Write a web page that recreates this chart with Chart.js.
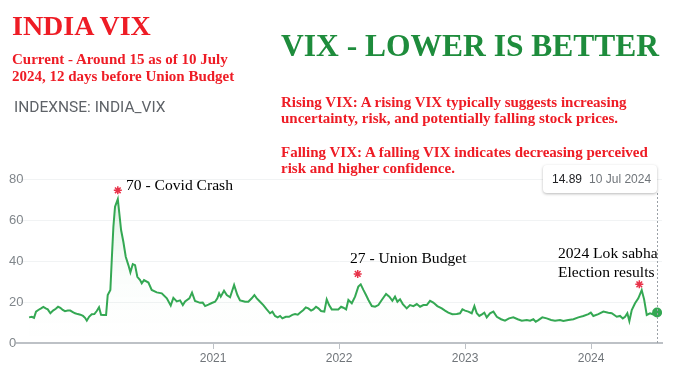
<!DOCTYPE html>
<html>
<head>
<meta charset="utf-8">
<script src="https://cdn.jsdelivr.net/npm/chart.js@4.4.1/dist/chart.umd.min.js"></script>
<style>
  html, body { margin: 0; padding: 0; background: #fff; }
  #wrap { position: relative; width: 676px; height: 377px; overflow: hidden; }
  #chart { position: absolute; left: 0; top: 0; }
  .t { position: absolute; white-space: nowrap; font-family: "Liberation Serif", "Times New Roman", serif; }
  .red { color: #ee1c25; font-weight: bold; }
  .note { color: #000; font-size: 15.6px; line-height: 16px; }
  #tip { position: absolute; left: 543px; top: 165px; width: 114px; height: 28px; background: #fff;
         border-radius: 4px; box-shadow: 0 1px 3px rgba(0,0,0,0.28); font: 12px "Liberation Sans", Arial, sans-serif;
         line-height: 28px; white-space: nowrap; }
</style>
</head>
<body>
<div id="wrap">
  <canvas id="chart" width="676" height="377"></canvas>

  <div class="t red" style="left:12px; top:11.5px; font-size:28px; line-height:28px;">INDIA VIX</div>
  <div class="t red" style="left:12px; top:50.5px; font-size:15px; line-height:17px;">Current - Around 15 as of 10 July<br>2024, 12 days before Union Budget</div>
  <div class="t" style="left:14px; top:99.5px; font-family: Roboto, Arial, sans-serif; font-size:15.5px; line-height:15.5px; color:#5f6368;">INDEXNSE: INDIA_VIX</div>

  <div class="t" style="left:281px; top:30.3px; font-size:31.5px; line-height:31.5px; font-weight:bold; color:#1e8c3c;">VIX - LOWER IS BETTER</div>
  <div class="t red" style="left:281px; top:94.2px; font-size:15px; line-height:16px;">Rising VIX: A rising VIX typically suggests increasing<br>uncertainty, risk, and potentially falling stock prices.</div>
  <div class="t red" style="left:281px; top:144.2px; font-size:15px; line-height:16px;">Falling VIX: A falling VIX indicates decreasing perceived<br>risk and higher confidence.</div>

  <div class="t note" style="left:126px; top:177px;">70 - Covid Crash</div>
  <div class="t note" style="left:350px; top:250px;">27 - Union Budget</div>
  <div class="t note" style="left:558px; top:243px; line-height:19px;">2024 Lok sabha<br>Election results</div>

  <div id="tip"><span style="margin-left:9px; color:#202124;">14.89</span><span style="margin-left:7px; color:#70757a;">10 Jul 2024</span></div>
</div>

<script>
// INDIA VIX, weekly-ish readings, dates as decimal years
const dates = [
  2019.540, 2019.561, 2019.579, 2019.595, 2019.613, 2019.635, 2019.653, 2019.672, 2019.688, 2019.709,
  2019.730, 2019.752, 2019.770, 2019.788, 2019.807, 2019.825, 2019.847, 2019.867, 2019.887, 2019.905,
  2019.926, 2019.947, 2019.968, 2019.984, 2019.998, 2020.016, 2020.037, 2020.058, 2020.077, 2020.095,
  2020.111, 2020.129, 2020.151, 2020.164, 2020.185, 2020.196, 2020.209, 2020.222, 2020.244, 2020.256,
  2020.270, 2020.288, 2020.307, 2020.328, 2020.344, 2020.363, 2020.381, 2020.399, 2020.421, 2020.434,
  2020.452, 2020.487, 2020.513, 2020.553, 2020.593, 2020.633, 2020.664, 2020.685, 2020.712, 2020.738,
  2020.760, 2020.778, 2020.812, 2020.833, 2020.857, 2020.897, 2020.918, 2020.937, 2020.963, 2020.990,
  2021.016, 2021.034, 2021.048, 2021.061, 2021.087, 2021.109, 2021.135, 2021.167, 2021.193, 2021.214,
  2021.233, 2021.254, 2021.280, 2021.307, 2021.328, 2021.347, 2021.373, 2021.399, 2021.426, 2021.452,
  2021.471, 2021.492, 2021.513, 2021.532, 2021.550, 2021.577, 2021.603, 2021.629, 2021.651, 2021.672,
  2021.690, 2021.717, 2021.736, 2021.756, 2021.778, 2021.796, 2021.817, 2021.836, 2021.857, 2021.883,
  2021.902, 2021.921, 2021.942, 2021.968, 2021.994, 2022.016, 2022.034, 2022.056, 2022.074, 2022.101,
  2022.127, 2022.153, 2022.172, 2022.193, 2022.214, 2022.233, 2022.260, 2022.286, 2022.312, 2022.339,
  2022.373, 2022.399, 2022.423, 2022.444, 2022.463, 2022.484, 2022.506, 2022.537, 2022.563, 2022.590,
  2022.617, 2022.643, 2022.669, 2022.696, 2022.722, 2022.748, 2022.780, 2022.815, 2022.841, 2022.867,
  2022.899, 2022.934, 2022.960, 2022.979, 2023.000, 2023.026, 2023.053, 2023.074, 2023.093, 2023.113,
  2023.137, 2023.153, 2023.172, 2023.198, 2023.225, 2023.252, 2023.286, 2023.317, 2023.349, 2023.383,
  2023.418, 2023.450, 2023.490, 2023.516, 2023.542, 2023.561, 2023.582, 2023.613, 2023.648, 2023.683,
  2023.714, 2023.754, 2023.780, 2023.820, 2023.860, 2023.899, 2023.939, 2023.979, 2023.998, 2024.018,
  2024.058, 2024.098, 2024.137, 2024.164, 2024.204, 2024.230, 2024.252, 2024.270, 2024.288, 2024.304,
  2024.323, 2024.349, 2024.375, 2024.402, 2024.421, 2024.442, 2024.468, 2024.490, 2024.508, 2024.524
];
const vix = [
  12.5, 12.8, 12.3, 15.3, 16.1, 16.9, 17.6, 16.9, 16.4, 14.5,
  15.8, 16.7, 17.7, 17.2, 16.1, 15.5, 15.8, 15.8, 15.1, 14.5,
  14.1, 13.8, 13.2, 12.3, 10.9, 12.8, 14.0, 14.1, 15.6, 17.4,
  13.8, 13.7, 13.7, 23.4, 25.9, 40.5, 56.7, 66.5, 70.2, 63.3,
  55.1, 49.4, 42.1, 38.0, 34.5, 38.5, 38.0, 32.3, 30.7, 29.1,
  30.7, 29.5, 25.9, 24.7, 24.2, 21.8, 18.3, 22.0, 20.3, 20.8,
  18.5, 20.3, 21.8, 24.6, 20.5, 19.6, 19.7, 18.0, 18.7, 19.5,
  20.1, 21.8, 24.2, 22.6, 25.5, 23.4, 22.3, 28.3, 23.4, 20.8,
  20.5, 20.1, 20.1, 21.8, 23.4, 21.8, 20.1, 18.5, 16.4, 14.5,
  15.3, 13.2, 12.5, 13.2, 12.0, 12.8, 12.8, 13.7, 14.1, 13.8,
  14.8, 16.1, 17.4, 16.9, 15.8, 16.4, 17.7, 16.9, 15.6, 15.3,
  21.3, 18.5, 16.4, 16.4, 16.4, 17.7, 17.2, 16.4, 21.0, 19.4,
  22.6, 27.5, 28.6, 25.9, 23.4, 21.0, 18.0, 17.7, 18.5, 21.0,
  23.9, 22.6, 20.6, 22.6, 20.1, 21.3, 19.0, 16.9, 18.5, 18.0,
  19.0, 17.7, 18.5, 18.5, 20.6, 19.7, 18.0, 16.9, 15.8, 14.8,
  14.0, 14.1, 14.5, 16.4, 15.8, 15.3, 14.5, 18.0, 14.5, 13.2,
  14.1, 14.8, 12.5, 14.5, 15.3, 12.8, 11.6, 10.9, 12.0, 12.5,
  11.6, 10.9, 11.2, 10.9, 11.6, 10.4, 11.2, 12.5, 12.0, 11.2,
  10.9, 11.2, 10.7, 11.2, 11.6, 12.5, 13.2, 14.1, 14.8, 13.2,
  14.1, 15.3, 14.8, 14.5, 12.8, 13.2, 12.0, 12.8, 14.5, 10.7,
  16.1, 19.4, 21.8, 25.8, 21.3, 13.7, 14.5, 14.0, 15.3, 14.89
];
// event markers (asterisks)
const markerDates = [2020.244, 2022.148, 2024.383];
const markerVals = [74.5, 33.7, 28.6];

const yearTicks = [2021, 2022, 2023, 2024];
const yTicks = [0, 20, 40, 60, 80];
const xMin = 2019.444, xMax = 2024.563;

const lineColor = '#34a853';

// dotted guide from the tooltip down to the last point's axis position
const guidePlugin = {
    id: 'guide',
    afterDatasetsDraw(chart) {
        const meta = chart.getDatasetMeta(0);
        const last = meta.data[meta.data.length - 1];
        const c = chart.ctx;
        c.save();
        c.strokeStyle = '#9aa0a6';
        c.lineWidth = 1;
        c.setLineDash([2, 2]);
        c.beginPath();
        c.moveTo(Math.round(last.x) + 0.5, 193);
        c.lineTo(Math.round(last.x) + 0.5, chart.chartArea.bottom);
        c.stroke();
        c.restore();
    }
};

let ctx = document.getElementById('chart').getContext('2d');
let chart = new Chart(ctx, {
    type: 'line',
    data: {
        datasets: [{
            data: dates.map((d, i) => ({ x: d, y: vix[i] })),
            borderColor: lineColor,
            borderWidth: 2,
            tension: 0,
            fill: 'origin',
            backgroundColor: (c) => {
                const area = c.chart.chartArea;
                if (!area) return 'transparent';
                const g = c.chart.ctx.createLinearGradient(0, area.top, 0, area.bottom);
                g.addColorStop(0, 'rgba(52,168,83,0.16)');
                g.addColorStop(0.6, 'rgba(52,168,83,0.02)');
                g.addColorStop(1, 'rgba(52,168,83,0)');
                return g;
            },
            pointRadius: (c) => c.dataIndex === vix.length - 1 ? 5 : 0,
            pointBackgroundColor: lineColor,
            pointBorderWidth: 0,
            order: 2
        }, {
            type: 'scatter',
            data: markerDates.map((d, i) => ({ x: d, y: markerVals[i] })),
            showLine: false,
            pointStyle: 'star',
            pointRadius: 4,
            borderColor: '#e8334a',
            borderWidth: 1.5,
            order: 1
        }]
    },
    options: {
        responsive: false,
        animation: false,
        events: [],
        layout: { padding: { left: 17, right: 14, top: 179, bottom: 0 } },
        plugins: { legend: { display: false }, tooltip: { enabled: false } },
        scales: {
            x: {
                type: 'linear',
                min: xMin,
                max: xMax,
                afterBuildTicks: (s) => { s.ticks = yearTicks.map(v => ({ value: v })); },
                afterFit: (s) => { s.height = 34; },
                ticks: {
                    callback: (v) => String(v),
                    color: '#70757a',
                    font: { family: 'Liberation Sans, Arial, sans-serif', size: 12 },
                    padding: 2,
                    maxRotation: 0
                },
                grid: { drawOnChartArea: false, drawTicks: true, tickLength: 6, color: '#bdc1c6' },
                border: { display: true, color: '#bdc1c6', width: 2 }
            },
            y: {
                min: 0,
                max: 80,
                afterBuildTicks: (s) => { s.ticks = yTicks.map(v => ({ value: v })); },
                afterFit: (s) => { s.width = 0; },
                ticks: {
                    mirror: true,
                    crossAlign: 'near',
                    padding: -8,
                    color: '#80868b',
                    font: { family: 'Liberation Sans, Arial, sans-serif', size: 13 }
                },
                grid: { color: '#f1f3f4', drawTicks: false },
                border: { display: false }
            }
        }
    },
    plugins: [guidePlugin]
});
</script>
</body>
</html>
